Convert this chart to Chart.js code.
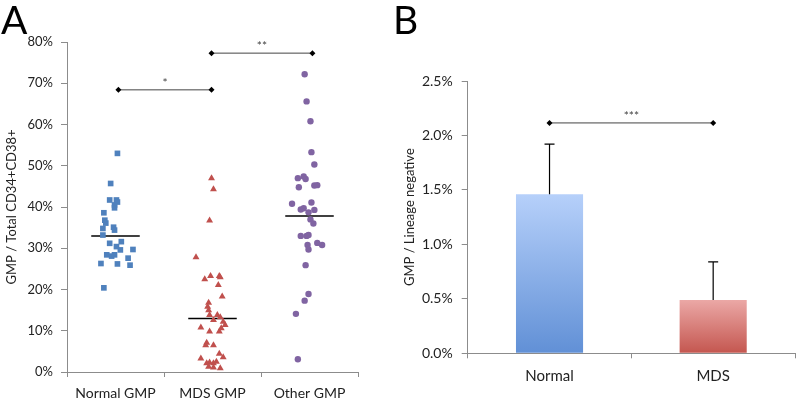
<!DOCTYPE html>
<html>
<head>
<meta charset="utf-8">
<script src="https://cdn.jsdelivr.net/npm/chart.js@4"></script>
<style>
  body { margin: 0; background: #fff; width: 799px; height: 400px; position: relative; overflow: hidden; font-family: Lato, sans-serif; }
  canvas { position: absolute; top: 0; }
  #chartA { left: 0; }
  #chartB { left: 400px; }
  .panel { position: absolute; top: 0; font-size: 39px; line-height: 1; color: #000; z-index: 2; }
</style>
</head>
<body>
<canvas id="chartA" width="400" height="400"></canvas>
<canvas id="chartB" width="399" height="400"></canvas>
<div class="panel" style="left:1px">A</div>
<div class="panel" style="left:393px">B</div>
<script>
// panel A: GMP / Total CD34+CD38+ (%)
const groupLabels = ['Normal GMP', 'MDS GMP', 'Other GMP'];

const normalX = [0.52, 0.45, 0.44, 0.51, 0.52, 0.49, 0.49, 0.38, 0.39, 0.40, 0.37, 0.48, 0.49, 0.37, 0.44, 0.51, 0.56, 0.55, 0.68, 0.41, 0.46, 0.49, 0.35, 0.52, 0.63, 0.65, 0.38];
const normalY = [53.0, 45.7, 41.7, 41.7, 41.2, 40.5, 39.8, 38.6, 36.8, 36.1, 34.8, 35.1, 34.4, 33.2, 31.2, 30.4, 31.6, 29.6, 29.7, 28.4, 28.1, 28.4, 26.3, 26.2, 27.6, 25.9, 20.4];

const mdsX = [1.49, 1.51, 1.47, 1.33, 1.42, 1.48, 1.57, 1.58, 1.56, 1.60, 1.46, 1.45, 1.46, 1.47, 1.55, 1.58, 1.51, 1.61, 1.63, 1.38, 1.47, 1.57, 1.59, 1.44, 1.43, 1.51, 1.57, 1.61, 1.38, 1.44, 1.47, 1.51, 1.54, 1.58, 1.46, 1.51];
const mdsY = [47.0, 44.3, 36.7, 27.8, 22.5, 23.3, 23.3, 23.0, 21.1, 18.3, 16.8, 15.8, 15.0, 13.8, 13.8, 13.3, 12.6, 12.2, 11.4, 10.8, 9.8, 9.8, 10.6, 7.1, 6.5, 6.5, 4.4, 3.6, 3.3, 2.1, 2.3, 2.1, 2.5, 0.9, 1.3, 1.1];

const otherX = [2.45, 2.47, 2.51, 2.52, 2.55, 2.38, 2.44, 2.46, 2.39, 2.55, 2.58, 2.32, 2.52, 2.41, 2.44, 2.49, 2.55, 2.51, 2.54, 2.41, 2.47, 2.49, 2.48, 2.49, 2.58, 2.63, 2.46, 2.49, 2.45, 2.36, 2.38];
const otherY = [72.2, 65.6, 60.8, 53.3, 50.3, 47.0, 47.4, 46.8, 44.8, 45.2, 45.3, 40.8, 41.1, 39.4, 39.7, 38.7, 39.3, 37.0, 36.0, 33.0, 33.0, 33.2, 30.8, 29.7, 31.3, 30.8, 25.9, 18.9, 17.3, 14.1, 3.1];

const groupMeans = [33.0, 13.0, 37.8];
const yTicksA = [0, 10, 20, 30, 40, 50, 60, 70, 80];

// significance brackets: [x start, x end, y, label]
const bracketsA = [
  [0.53, 1.49, 68.4, '*'],
  [1.49, 2.53, 77.3, '**']
];

// panel B: GMP / Lineage negative (%)
const barLabels = ['Normal', 'MDS'];
const barValues = [1.46, 0.49];
const barErrors = [0.46, 0.35];
const bracketB = [2.115, '***'];

Chart.defaults.font.family = 'Lato, sans-serif';
Chart.defaults.color = '#222';

const axisGray = '#8c8c8c';

function pts(xs, ys) {
  return xs.map((x, i) => ({ x: x, y: ys[i] }));
}

const starLabels = {
  id: 'starLabels',
  afterDatasetsDraw(chart) {
    const c = chart.ctx;
    chart.data.datasets.forEach((ds, i) => {
      if (!ds.stars) return;
      const meta = chart.getDatasetMeta(i);
      const a = meta.data[0], b = meta.data[1];
      c.save();
      c.fillStyle = '#444';
      c.font = '12px Lato, sans-serif';
      c.textAlign = 'center';
      c.textBaseline = 'middle';
      c.fillText(ds.stars, (a.x + b.x) / 2, a.y - 7);
      c.restore();
    });
  }
};

const datasetsA = [
  { data: pts(normalX, normalY), pointStyle: 'rect', pointRadius: 4, backgroundColor: '#4f81bd', borderWidth: 0 },
  { data: pts(mdsX, mdsY), pointStyle: 'triangle', pointRadius: 4, backgroundColor: '#c0504d', borderWidth: 0 },
  { data: pts(otherX, otherY), pointStyle: 'circle', pointRadius: 3.2, backgroundColor: '#8064a2', borderWidth: 0 }
];

groupMeans.forEach((m, i) => {
  datasetsA.push({
    data: [{ x: i + 0.25, y: m }, { x: i + 0.75, y: m }],
    showLine: true, pointRadius: 0, borderColor: '#000', borderWidth: 1.5
  });
});

bracketsA.forEach(b => {
  datasetsA.push({
    data: [{ x: b[0], y: b[2] }, { x: b[1], y: b[2] }],
    stars: b[3],
    showLine: true, borderColor: '#444', borderWidth: 1,
    pointStyle: 'rectRot', pointRadius: 3, pointBackgroundColor: '#000', pointBorderColor: '#000', pointBorderWidth: 0
  });
});

new Chart(document.getElementById('chartA'), {
  type: 'scatter',
  data: { datasets: datasetsA },
  plugins: [starLabels],
  options: {
    responsive: false,
    animation: false,
    layout: { padding: { top: 42, right: 42, left: 0, bottom: 0 } },
    plugins: { legend: { display: false }, tooltip: { enabled: false } },
    scales: {
      x: {
        type: 'linear', min: 0, max: 3,
        afterBuildTicks: s => { s.ticks = [0, 0.5, 1, 1.5, 2, 2.5, 3].map(v => ({ value: v })); },
        afterFit: s => { s.height = 28; },
        ticks: {
          autoSkip: false, maxRotation: 0, padding: 8,
          font: { size: 14 },
          callback: v => (v % 1 === 0.5 ? groupLabels[Math.floor(v)] : '')
        },
        grid: {
          drawOnChartArea: false, tickLength: 5,
          color: ctx => (ctx.tick && ctx.tick.value % 1 === 0 ? axisGray : 'rgba(0,0,0,0)')
        },
        border: { color: axisGray }
      },
      y: {
        min: 0, max: 80,
        afterBuildTicks: s => { s.ticks = yTicksA.map(v => ({ value: v })); },
        afterFit: s => { s.width = 67; },
        ticks: { padding: 8, font: { size: 13 }, callback: v => v + '%' },
        grid: { drawOnChartArea: false, tickLength: 6, color: axisGray },
        border: { color: axisGray },
        title: { display: true, text: 'GMP / Total CD34+CD38+', font: { size: 13 }, padding: { top: 4, bottom: 0 } }
      }
    }
  }
});

const errorBars = {
  id: 'errorBars',
  afterDatasetsDraw(chart) {
    const meta = chart.getDatasetMeta(1);
    const y = chart.scales.y;
    const c = chart.ctx;
    c.save();
    c.strokeStyle = '#000';
    c.lineWidth = 1.2;
    meta.data.forEach((bar, i) => {
      const top = y.getPixelForValue(barValues[i] + barErrors[i]);
      c.beginPath();
      c.moveTo(bar.x, bar.y);
      c.lineTo(bar.x, top);
      c.moveTo(bar.x - 5, top);
      c.lineTo(bar.x + 5, top);
      c.stroke();
    });
    c.restore();
  }
};

const barGrad = [['#b6d0fa', '#6190d6'], ['#eba8a6', '#c4564f']];

function barFill(ctx) {
  const chart = ctx.chart;
  const area = chart.chartArea;
  if (!area || !chart.scales.y) return barGrad[ctx.dataIndex][1];
  const top = chart.scales.y.getPixelForValue(ctx.raw);
  const g = chart.ctx.createLinearGradient(0, top, 0, area.bottom);
  g.addColorStop(0, barGrad[ctx.dataIndex][0]);
  g.addColorStop(1, barGrad[ctx.dataIndex][1]);
  return g;
}

new Chart(document.getElementById('chartB'), {
  type: 'bar',
  data: {
    labels: barLabels,
    datasets: [
      {
        type: 'line', data: barLabels.map(() => bracketB[0]), stars: bracketB[1],
        borderColor: '#444', borderWidth: 1,
        pointStyle: 'rectRot', pointRadius: 3, pointBackgroundColor: '#000', pointBorderColor: '#000', pointBorderWidth: 0
      },
      { data: barValues, backgroundColor: barFill, barPercentage: 0.41, categoryPercentage: 1 }
    ]
  },
  plugins: [errorBars, starLabels],
  options: {
    responsive: false,
    animation: false,
    layout: { padding: { top: 81, right: 4, left: 0, bottom: 0 } },
    plugins: { legend: { display: false }, tooltip: { enabled: false } },
    scales: {
      x: {
        afterFit: s => { s.height = 46.7; },
        ticks: { padding: 9, font: { size: 15 } },
        grid: { offset: true, drawOnChartArea: false, tickLength: 5, color: axisGray },
        border: { color: axisGray }
      },
      y: {
        min: 0, max: 2.5,
        afterFit: s => { s.width = 67.7; },
        ticks: { stepSize: 0.5, padding: 9, font: { size: 14 }, callback: v => v.toFixed(1) + '%' },
        grid: { drawOnChartArea: false, tickLength: 6, color: axisGray },
        border: { color: axisGray },
        title: { display: true, text: 'GMP / Lineage negative', font: { size: 13 }, padding: { top: 2, bottom: 0 } }
      }
    }
  }
});
</script>
</body>
</html>
